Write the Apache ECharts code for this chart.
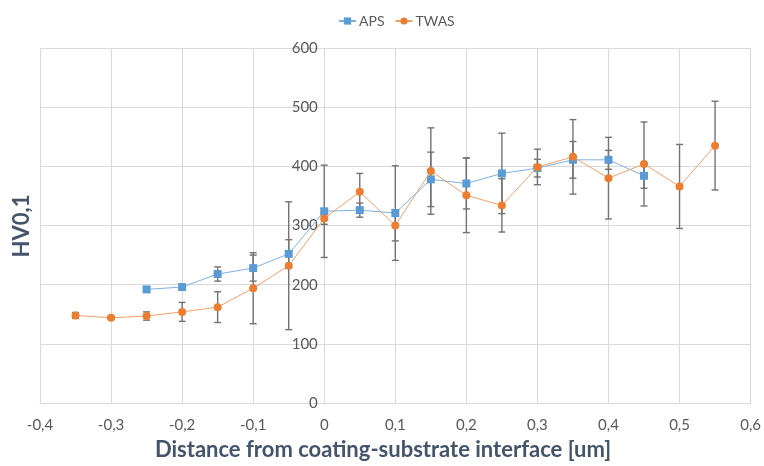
<!DOCTYPE html>
<html>
<head>
<meta charset="utf-8">
<script src="https://cdn.jsdelivr.net/npm/echarts@6/dist/echarts.min.js"></script>
<style>html,body{margin:0;padding:0;background:#fff}#c{width:764px;height:466px}</style>
</head>
<body>
<div id="c"></div>
<script>
const xAPS = [-0.25, -0.2, -0.15, -0.1, -0.05, 0, 0.05, 0.1, 0.15, 0.2, 0.25, 0.3, 0.35, 0.4, 0.45];
const apsValues = [192, 196, 218, 228, 252, 324, 326, 321, 378, 371, 388, 397, 411, 411, 384];
const apsErr = [0, 0, 12, 22, 24, 78, 12, 80, 46, 43, 68, 15, 31, 16, 21];

const xTWAS = [-0.35, -0.3, -0.25, -0.2, -0.15, -0.1, -0.05, 0, 0.05, 0.1, 0.15, 0.2, 0.25, 0.3, 0.35, 0.4, 0.45, 0.5, 0.55];
const twasValues = [148, 144, 147, 154, 162, 194, 232, 312, 357, 300, 392, 351, 334, 399, 416, 380, 404, 366, 435];
const twasErr = [5, 2, 7, 16, 26, 60, 108, 10, 31, 26, 73, 63, 45, 30, 63, 69, 71, 71, 75];

const seriesNames = ['APS', 'TWAS'];
const xTitle = 'Distance from coating-substrate interface [um]';
const yTitle = 'HV0,1';

const FONT = 'Lato';
const LABEL = '#595959';
const TITLE = '#44546A';
const GRID = '#d9d9d9';

const X_MIN = -0.4, X_MAX = 0.6;
const GRID_LEFT = 40, GRID_RIGHT = 12;
const PLOT_W = 764 - GRID_LEFT - GRID_RIGHT;
// y labels sit beside the vertical line at x = 0
const zeroOffset = PLOT_W * (0 - X_MIN) / (X_MAX - X_MIN);

function pairs(xs, ys) { return xs.map((x, i) => [x, ys[i]]); }
function errData(xs, ys, es) {
  const out = [];
  xs.forEach((x, i) => { if (es[i] > 0) out.push([x, ys[i] - es[i], ys[i] + es[i]]); });
  return out;
}
function renderErr(params, api) {
  const x = api.value(0), lo = api.value(1), hi = api.value(2);
  const t = api.coord([x, hi]), b = api.coord([x, lo]);
  const w = 3.5;
  const style = { stroke: '#737373', lineWidth: 1.4 };
  return {
    type: 'group',
    children: [
      { type: 'line', shape: { x1: t[0], y1: t[1], x2: b[0], y2: b[1] }, style },
      { type: 'line', shape: { x1: t[0] - w, y1: t[1], x2: t[0] + w, y2: t[1] }, style },
      { type: 'line', shape: { x1: b[0] - w, y1: b[1], x2: b[0] + w, y2: b[1] }, style }
    ]
  };
}
const fmt = v => String(+(+v).toFixed(1)).replace('.', ',');

const chart = echarts.init(document.getElementById('c'), null, { renderer: 'canvas' });
chart.setOption({
  animation: false,
  textStyle: { fontFamily: FONT },
  grid: { left: GRID_LEFT, right: GRID_RIGHT, top: 48, bottom: 63 },
  legend: {
    top: 9, left: 333,
    data: seriesNames,
    itemWidth: 17, itemHeight: 9, itemGap: 10,
    textStyle: { fontFamily: FONT, fontSize: 14, color: LABEL, padding: [0, 0, 0, -2] }
  },
  xAxis: {
    type: 'value', min: X_MIN, max: X_MAX, interval: 0.1,
    axisLine: { show: true, onZero: false, lineStyle: { color: GRID, width: 1 } },
    axisTick: { show: false },
    axisLabel: { formatter: fmt, fontSize: 15, color: LABEL, margin: 15 },
    splitLine: { show: true, lineStyle: { color: GRID, width: 1 } }
  },
  yAxis: {
    type: 'value', min: 0, max: 600, interval: 100,
    axisLine: { show: false },
    axisTick: { show: false },
    axisLabel: { fontSize: 15, color: LABEL, margin: -(zeroOffset - 7) },
    splitLine: { show: true, lineStyle: { color: GRID, width: 1 } }
  },
  graphic: [{
    type: 'text', x: 22, y: 226, rotation: Math.PI / 2,
    style: { text: yTitle, fontFamily: FONT, fontSize: 22, fontWeight: 'bold', fill: TITLE, align: 'center', verticalAlign: 'middle' }
  }, {
    type: 'text', x: 383, y: 450,
    style: { text: xTitle, fontFamily: FONT, fontSize: 22, fontWeight: 'bold', fill: TITLE, align: 'center', verticalAlign: 'middle' }
  }],
  series: [
    { name: 'APSerr', type: 'custom', renderItem: renderErr, encode: { x: 0, y: [1, 2] }, data: errData(xAPS, apsValues, apsErr), z: 1, silent: true },
    { name: 'TWASerr', type: 'custom', renderItem: renderErr, encode: { x: 0, y: [1, 2] }, data: errData(xTWAS, twasValues, twasErr), z: 1, silent: true },
    {
      name: seriesNames[0], type: 'line', data: pairs(xAPS, apsValues), z: 3,
      symbol: 'rect', symbolSize: 8,
      itemStyle: { color: '#5B9BD5' },
      lineStyle: { color: '#7EB0DE', width: 1 }
    },
    {
      name: seriesNames[1], type: 'line', data: pairs(xTWAS, twasValues), z: 4,
      symbol: 'circle', symbolSize: 8,
      itemStyle: { color: '#ED7D31' },
      lineStyle: { color: '#F0A06A', width: 1 }
    }
  ]
});
</script>
</body>
</html>
